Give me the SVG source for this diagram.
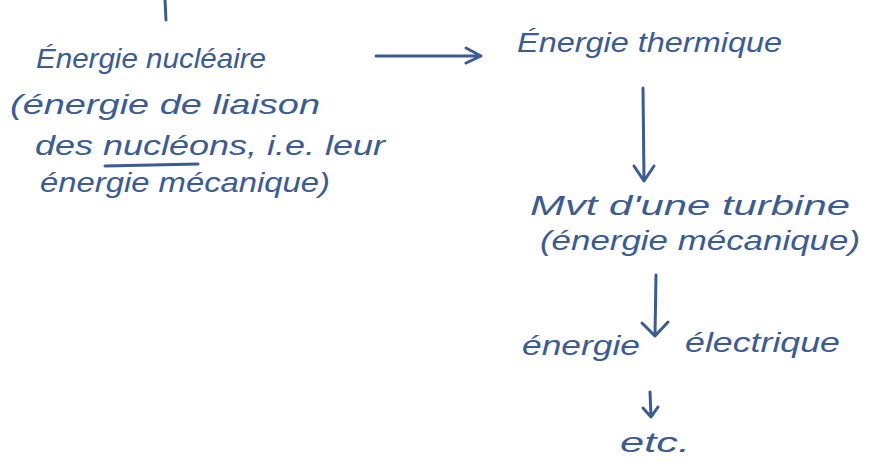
<svg xmlns="http://www.w3.org/2000/svg" width="873" height="472" viewBox="0 0 873 472">
<defs>
<style>
text{font-family:"Liberation Sans",Arial,sans-serif;font-style:italic;fill:#3b5b93;font-size:28px}
.c{stroke:#3b5b93;stroke-width:3;fill:none;stroke-linecap:round;stroke-linejoin:round}
</style>
</defs>
<rect width="873" height="472" fill="#ffffff"/>
<g id="nucleaire">
<text x="36" y="68" textLength="230" lengthAdjust="spacingAndGlyphs">Énergie nucléaire</text>
<text x="10" y="114" textLength="310" lengthAdjust="spacingAndGlyphs">(énergie de liaison</text>
<text x="35" y="155" textLength="350" lengthAdjust="spacingAndGlyphs">des nucléons, i.e. leur</text>
<path class="c" d="M105 166 L198 164"/>
<text x="40" y="192" textLength="290" lengthAdjust="spacingAndGlyphs">énergie mécanique)</text>
</g>
<g id="thermique">
<text x="517" y="52" textLength="265" lengthAdjust="spacingAndGlyphs">Énergie thermique</text>
</g>
<g id="turbine">
<text x="530" y="215" textLength="320" lengthAdjust="spacingAndGlyphs">Mvt d'une turbine</text>
<text x="540" y="250" textLength="320" lengthAdjust="spacingAndGlyphs">(énergie mécanique)</text>
</g>
<g id="electrique">
<text x="522" y="355" textLength="118" lengthAdjust="spacingAndGlyphs">énergie</text>
<text x="685" y="352" textLength="155" lengthAdjust="spacingAndGlyphs">électrique</text>
</g>
<g id="etc">
<text x="620" y="452" textLength="70" lengthAdjust="spacingAndGlyphs">etc.</text>
</g>
<g id="connectors">
<path class="c" d="M165 0 L166 20"/>
<path class="c" d="M376 56 L480 56 M466 48 L481 56 L466 63"/>
<path class="c" d="M643 88 L644 180 M634 166 L644 181 L654 166"/>
<path class="c" d="M656 275 L655 335 M642 323 L655 336 L668 322"/>
<path class="c" d="M650 392 L651 416 M643 408 L651 417 L658 407"/>
</g>
</svg>
